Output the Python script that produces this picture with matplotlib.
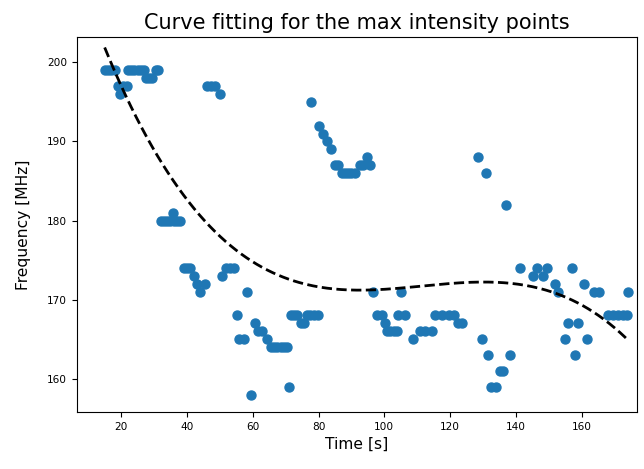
import numpy as np
import matplotlib
matplotlib.use("Agg")
import matplotlib.pyplot as plt

# max intensity points: time [s] and frequency [MHz]
time_s = [
    15, 16, 17, 18, 19, 19.7, 20.5, 21.8, 22, 23, 24, 25, 26, 27,
    27.5, 28.5, 29.5, 30.5, 31.2,
    32, 33, 34, 35, 35.8, 36, 37, 38,
    39, 40, 41, 42, 43, 44, 45.5,
    46, 47.2, 48.4, 50,
    50.7, 52, 53, 54.3, 55.2, 55.8, 57.3, 58.3, 59.5,
    60.7, 61.7, 62.8, 64.2, 65.5, 66.5, 67.5, 68.5, 69.5, 70.3,
    71, 71.6, 72.6, 73.6, 74.6, 75.6, 76.6, 77.4, 77.6, 78.6, 79.8,
    80.2, 81.5, 82.6, 83.9, 85, 86, 87, 88, 89, 90, 91, 92.5, 93.6, 94.8, 95.7,
    96.6, 97.7, 99.2, 100.2, 100.8, 101.8, 102.8, 103.8, 104.2, 105, 106.3,
    108.8, 110.9, 112.4, 114.4, 115.4, 117.5, 119.5, 121.2, 122.4, 123.6,
    128.6, 129.6, 130.8, 131.5, 132.5, 134, 135, 136.2, 137, 138.2,
    141.3, 145.2, 146.4, 148.1, 149.5, 152, 152.9, 155, 155.9, 157, 158, 159,
    160.7, 161.7, 163.8, 165.1, 168, 169.5, 171, 172.5, 173.8, 174.2,
]
freq_mhz = [
    199, 199, 199, 199, 197, 196, 197, 197, 199, 199, 199, 199, 199, 199,
    198, 198, 198, 199, 199,
    180, 180, 180, 180, 181, 180, 180, 180,
    174, 174, 174, 173, 172, 171, 172,
    197, 197, 197, 196,
    173, 174, 174, 174, 168, 165, 165, 171, 158,
    167, 166, 166, 165, 164, 164, 164, 164, 164, 164,
    159, 168, 168, 168, 167, 167, 168, 168, 195, 168, 168,
    192, 191, 190, 189, 187, 187, 186, 186, 186, 186, 186, 187, 187, 188, 187,
    171, 168, 168, 167, 166, 166, 166, 166, 168, 171, 168,
    165, 166, 166, 166, 168, 168, 168, 168, 167, 167,
    188, 165, 186, 163, 159, 159, 161, 161, 182, 163,
    174, 173, 174, 173, 174, 172, 171, 165, 167, 174, 163, 167,
    172, 165, 171, 171, 168, 168, 168, 168, 168, 171,
]

t = np.array(time_s)
f = np.array(freq_mhz)

# cubic polynomial fit through the points
coef = np.polyfit(t, f, 3)
t_fit = np.linspace(t.min(), t.max(), 300)
f_fit = np.polyval(coef, t_fit)

fig = plt.figure(figsize=(6.44, 4.69), dpi=100)
ax = fig.add_axes([0.1196, 0.1215, 0.8696, 0.7996])

ax.scatter(t, f, s=42, color="#1f77b4", zorder=2)
ax.plot(t_fit, f_fit, "k--", lw=2, zorder=3)

ax.set_xlim(6.6, 176.8)
ax.set_ylim(155.8, 203.2)
ax.set_xticks([20, 40, 60, 80, 100, 120, 140, 160])
ax.set_yticks([160, 170, 180, 190, 200])
ax.tick_params(labelsize=7.6)

ax.set_xlabel("Time [s]", fontsize=11.2)
ax.set_ylabel("Frequency [MHz]", fontsize=11.2, labelpad=12)
ax.set_title("Curve fitting for the max intensity points", fontsize=15)

fig.savefig("out.png", dpi=100)
